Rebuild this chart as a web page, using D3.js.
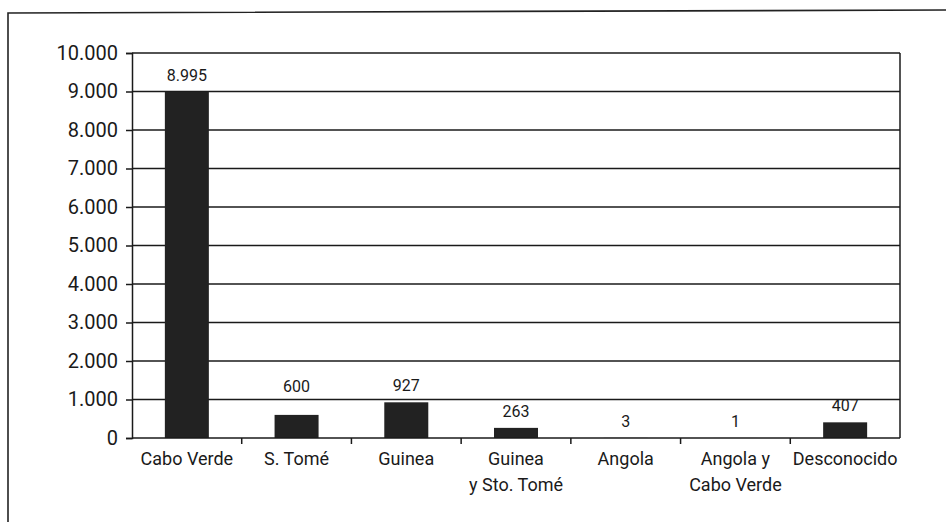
<!DOCTYPE html>
<html>
<head>
<meta charset="utf-8">
<script src="https://cdn.jsdelivr.net/npm/d3@7"></script>
<style>
  html, body { margin: 0; padding: 0; background: #fff; }
  svg { display: block; }
  text { font-family: Roboto, "Open Sans", sans-serif; fill: #1a1a1a; }
</style>
</head>
<body>
<svg id="chart" width="946" height="522"></svg>
<script>
// Origen de los esclavos
const categories = [["Cabo Verde"], ["S. Tomé"], ["Guinea"], ["Guinea", "y Sto. Tomé"], ["Angola"], ["Angola y", "Cabo Verde"], ["Desconocido"]];
const values = [8995, 600, 927, 263, 3, 1, 407];
const yTicks = [0, 1000, 2000, 3000, 4000, 5000, 6000, 7000, 8000, 9000, 10000];

const locale = d3.formatLocale({ decimal: ",", thousands: ".", grouping: [3], currency: ["", ""] });
const fmt = locale.format(",d");

const svg = d3.select("#chart");
const margin = { left: 132, right: 46, top: 53, bottom: 82 };
const W = 946, H = 522;

// outer frame
svg.append("path")
  .attr("d", `M8,522 L8,13 L946,10`)
  .attr("fill", "none").attr("stroke", "#222").attr("stroke-width", 1.6);

const band = d3.scaleBand()
  .domain(categories.map(d => d.join(" ")))
  .range([margin.left, W - margin.right]);
const barW = 44;

const y = d3.scaleLinear().domain([0, 10000]).range([H - margin.bottom - 2, margin.top]);

// gridlines
svg.append("g").selectAll("line").data(yTicks.slice(1)).join("line")
  .attr("x1", margin.left).attr("x2", W - margin.right)
  .attr("y1", d => y(d)).attr("y2", d => y(d))
  .attr("stroke", "#1a1a1a").attr("stroke-width", 1.5);

// right border
svg.append("line")
  .attr("x1", W - margin.right).attr("x2", W - margin.right)
  .attr("y1", y(10000)).attr("y2", y(0))
  .attr("stroke", "#1a1a1a").attr("stroke-width", 1.5);

// bars
svg.append("g").selectAll("rect").data(values).join("rect")
  .attr("x", (d, i) => band(categories[i].join(" ")) + (band.bandwidth() - barW) / 2)
  .attr("width", barW)
  .attr("y", d => y(d))
  .attr("height", d => y(0) - y(d))
  .attr("fill", "#222");

// value labels; a label that would be crossed by a gridline is lifted above it
function labelY(v) {
  const base = y(v) - 11;
  const top = base - 12;
  const hit = yTicks.slice(1).map(y).find(g => g > top + 3 && g < base);
  return hit !== undefined ? hit - 8 : base;
}
svg.append("g").selectAll("text").data(values).join("text")
  .attr("x", (d, i) => band(categories[i].join(" ")) + band.bandwidth() / 2)
  .attr("y", d => labelY(d))
  .attr("text-anchor", "middle")
  .attr("font-size", 16)
  .text(d => fmt(d));

// y axis
const yAxis = d3.axisLeft(y).tickValues(yTicks).tickSize(6).tickPadding(8).tickFormat(d => fmt(d));
const gy = svg.append("g").attr("transform", `translate(${margin.left},0)`).call(yAxis);
gy.select(".domain").attr("stroke", "#1a1a1a").attr("stroke-width", 1.5);
gy.selectAll(".tick line").attr("stroke", "#1a1a1a").attr("stroke-width", 1.5);
gy.selectAll(".tick text").attr("font-size", 20).attr("fill", "#1a1a1a")
  .attr("font-family", "Roboto, 'Open Sans', sans-serif");

// x axis with ticks between categories
const gx = svg.append("g").attr("transform", `translate(0,${y(0)})`);
gx.append("line").attr("x1", margin.left).attr("x2", W - margin.right)
  .attr("stroke", "#1a1a1a").attr("stroke-width", 1.5);
gx.selectAll(".sep").data(band.domain().slice(1)).join("line")
  .attr("class", "sep")
  .attr("x1", d => band(d)).attr("x2", d => band(d))
  .attr("y1", 0).attr("y2", 6)
  .attr("stroke", "#1a1a1a").attr("stroke-width", 1.5);

const lbl = gx.selectAll(".cat").data(categories).join("text")
  .attr("class", "cat")
  .attr("text-anchor", "middle")
  .attr("font-size", 18)
  .attr("transform", d => `translate(${band(d.join(" ")) + band.bandwidth() / 2},0)`);
lbl.selectAll("tspan").data(d => d).join("tspan")
  .attr("x", 0)
  .attr("y", (d, i) => 27 + i * 26)
  .text(d => d);
</script>
</body>
</html>
